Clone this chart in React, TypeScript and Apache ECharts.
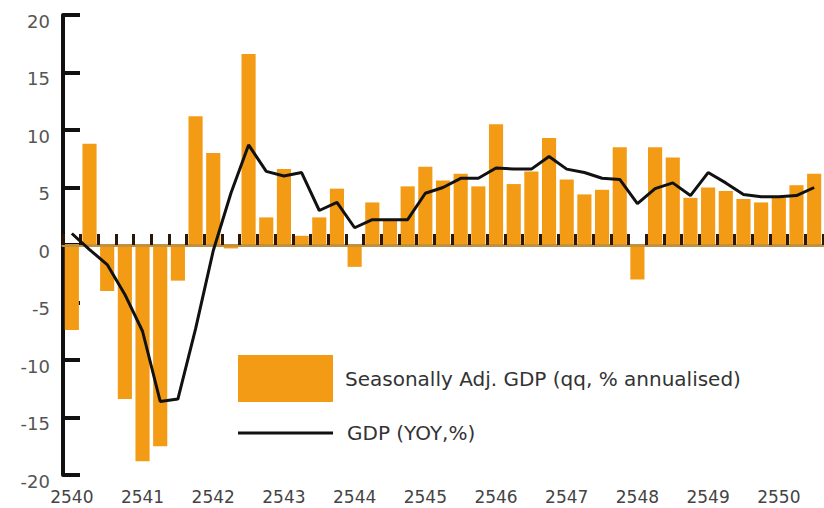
import React, { useEffect, useRef } from "react";
import * as echarts from "echarts";

const years = ["2540", "2541", "2542", "2543", "2544", "2545", "2546", "2547", "2548", "2549", "2550"];
const quarters = ["Q1", "Q2", "Q3", "Q4"];
const categories: string[] = [];
years.forEach((y) => quarters.forEach((q) => categories.push(y + " " + q)));
categories.length = 43;

const barName = "Seasonally Adj. GDP (qq, % annualised)";
const lineName = "GDP (YOY,%)";

const qqValues = [
  -7.4, 8.8, -4.0, -13.4, -18.8, -17.5, -3.1, 11.2, 8.0, -0.3,
  16.6, 2.4, 6.6, 0.8, 2.4, 4.9, -1.9, 3.7, 2.1, 5.1,
  6.8, 5.6, 6.2, 5.1, 10.5, 5.3, 6.4, 9.3, 5.7, 4.4,
  4.8, 8.5, -3.0, 8.5, 7.6, 4.1, 5.0, 4.7, 4.0, 3.7,
  4.1, 5.2, 6.2,
];

const yoyValues = [
  1.0, -0.4, -1.7, -4.3, -7.5, -13.6, -13.4, -7.3, -0.5, 4.5,
  8.7, 6.4, 6.0, 6.3, 3.0, 3.7, 1.5, 2.2, 2.2, 2.2,
  4.5, 5.0, 5.8, 5.8, 6.7, 6.6, 6.6, 7.7, 6.6, 6.3,
  5.8, 5.7, 3.6, 4.9, 5.4, 4.3, 6.3, 5.4, 4.4, 4.2,
  4.2, 4.3, 5.0,
];

const yMin = -20;
const yMax = 20;
const yStep = 5;

export default function App() {
  const ref = useRef<HTMLDivElement>(null);
  useEffect(() => {
    document.body.style.margin = "0";
    const chart = echarts.init(ref.current!, null, { renderer: "svg" });
    const font = "DejaVu Sans";
    chart.setOption({
      animation: false,
      backgroundColor: "#ffffff",
      grid: { left: 63, right: 1, top: 15, bottom: 33, containLabel: false, outerBoundsMode: "none" },
      legend: [
        {
          data: [barName],
          left: 238,
          top: 355,
          padding: 0,
          icon: "rect",
          itemWidth: 95,
          itemHeight: 47,
          selectedMode: false,
          textStyle: { fontFamily: font, fontSize: 20, color: "#333", padding: [0, 0, 0, 7] },
        },
        {
          data: [lineName],
          left: 238,
          top: 422,
          padding: 0,
          icon: "rect",
          itemWidth: 95,
          itemHeight: 3,
          selectedMode: false,
          textStyle: { fontFamily: font, fontSize: 20, lineHeight: 22, color: "#333", padding: [0, 0, 0, 9] },
        },
      ],
      xAxis: [
        {
          type: "category",
          data: categories,
          position: "bottom",
          axisLine: { onZero: true, lineStyle: { color: "#C0913F", width: 3 } },
          axisTick: { show: true, inside: true, length: 11, interval: 0, lineStyle: { color: "#2a170c", width: 3 } },
          axisLabel: { show: false },
          splitLine: { show: false },
          z: 3,
        },
        {
          type: "category",
          data: categories,
          position: "bottom",
          axisLine: { show: false, onZero: false },
          axisTick: { show: false },
          axisLabel: {
            interval: 3,
            margin: 15,
            fontFamily: font,
            fontSize: 17,
            lineHeight: 14,
            color: "#444",
            formatter: (v: string) => v.slice(0, 4),
          },
          splitLine: { show: false },
        },
      ],
      yAxis: {
        type: "value",
        min: yMin,
        max: yMax,
        interval: yStep,
        axisLine: { show: true, lineStyle: { color: "#111", width: 4 } },
        axisTick: { show: true, inside: true, length: 17, lineStyle: { color: "#111", width: 4 } },
        axisLabel: {
          margin: 13,
          fontFamily: font,
          fontSize: 18,
          color: "#555",
          verticalAlign: "top",
          lineHeight: 12,
        },
        splitLine: { show: false },
      },
      series: [
        {
          name: barName,
          type: "bar",
          xAxisIndex: 0,
          data: qqValues,
          barCategoryGap: "20%",
          itemStyle: { color: "#F49B16" },
          z: 2,
        },
        {
          name: lineName,
          type: "line",
          xAxisIndex: 0,
          data: yoyValues,
          showSymbol: false,
          symbol: "none",
          lineStyle: { color: "#111", width: 3 },
          itemStyle: { color: "#111" },
          z: 4,
        },
      ],
    });
    return () => chart.dispose();
  }, []);
  return <div ref={ref} style={{ width: 824, height: 508 }} />;
}
